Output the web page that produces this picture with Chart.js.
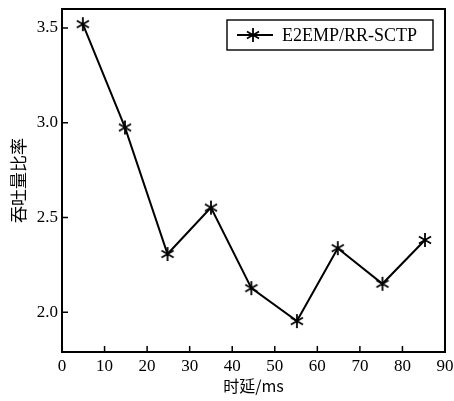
<!DOCTYPE html>
<html>
<head>
<meta charset="utf-8">
<script src="https://cdn.jsdelivr.net/npm/chart.js@4/dist/chart.umd.min.js"></script>
<style>
  html, body { margin: 0; padding: 0; background: #fff; }
  #wrap { width: 454px; height: 401px; }
</style>
</head>
<body>
<div id="wrap"><canvas id="chart"></canvas></div>
<script>
// data
var delays = [4.9, 14.8, 24.8, 35, 44.5, 55.2, 64.8, 75.3, 85.3];
var ratios = [3.52, 2.975, 2.307, 2.552, 2.127, 1.953, 2.338, 2.15, 2.381];
var seriesName = "E2EMP/RR-SCTP";
var xTitle = "时延/ms";
var yTitle = "吞吐量比率";

var serif = "'Liberation Serif', 'Times New Roman', serif";
var cjk = "'Noto Sans CJK SC', sans-serif";

// six-armed asterisk marker
function asterisk(r) {
    var c = document.createElement("canvas");
    c.width = c.height = r * 2 + 2;
    var g = c.getContext("2d");
    g.strokeStyle = "#000";
    g.lineWidth = 1.8;
    g.translate(r + 1, r + 1);
    g.beginPath();
    for (var i = 0; i < 3; i++) {
        var a = Math.PI / 2 + i * Math.PI / 3;
        g.moveTo(Math.cos(a) * r, Math.sin(a) * r);
        g.lineTo(-Math.cos(a) * r, -Math.sin(a) * r);
    }
    g.stroke();
    return c;
}
var marker = asterisk(7);

// no extra room for edge labels, the plot box is fixed
function noEdgePad(s) {
    s.paddingTop = 0;
    s.paddingBottom = 0;
    s.paddingLeft = 0;
    s.paddingRight = 0;
}

// frame, inward ticks and boxed legend
var framePlugin = {
    id: "frame",
    afterDraw: function (chart) {
        var ctx = chart.ctx, a = chart.chartArea;
        var xs = chart.scales.x, ys = chart.scales.y;
        ctx.save();
        ctx.strokeStyle = "#000";
        ctx.lineWidth = 2;
        ctx.strokeRect(a.left, a.top, a.right - a.left, a.bottom - a.top);
        ctx.lineWidth = 1.5;
        ctx.beginPath();
        xs.ticks.forEach(function (t) {
            var px = xs.getPixelForValue(t.value);
            ctx.moveTo(px, a.bottom);
            ctx.lineTo(px, a.bottom - 6);
        });
        ys.ticks.forEach(function (t) {
            var py = ys.getPixelForValue(t.value);
            ctx.moveTo(a.left, py);
            ctx.lineTo(a.left + 6, py);
        });
        ctx.stroke();

        // legend
        var bx = 227, by = 20, bw = 206, bh = 30;
        ctx.lineWidth = 1.4;
        ctx.strokeRect(bx, by, bw, bh);
        var ly = by + bh / 2;
        ctx.lineWidth = 1.8;
        ctx.beginPath();
        ctx.moveTo(bx + 10, ly);
        ctx.lineTo(bx + 46, ly);
        ctx.stroke();
        ctx.drawImage(marker, bx + 26 - marker.width / 2, ly - marker.height / 2);
        ctx.fillStyle = "#000";
        ctx.font = "18px " + serif;
        ctx.textBaseline = "middle";
        ctx.fillText(seriesName, bx + 55, ly + 1);
        ctx.restore();
    }
};

var ctx = document.getElementById("chart").getContext("2d");
var myChart = new Chart(ctx, {
    type: "line",
    data: {
        labels: delays,
        datasets: [{
            label: seriesName,
            data: delays.map(function (d, i) { return { x: d, y: ratios[i] }; }),
            borderColor: "#000",
            borderWidth: 2,
            pointStyle: marker,
            pointRadius: 7,
            tension: 0,
            fill: false
        }]
    },
    options: {
        responsive: true,
        maintainAspectRatio: false,
        animation: false,
        layout: { padding: { top: 6, right: 8, left: 0, bottom: 0 } },
        plugins: {
            legend: { display: false },
            tooltip: { enabled: false }
        },
        scales: {
            x: {
                type: "linear",
                min: 0,
                max: 90,
                ticks: {
                    stepSize: 10,
                    color: "#000",
                    padding: 4,
                    maxRotation: 0,
                    font: { family: serif, size: 17 }
                },
                grid: { display: false, drawTicks: false },
                border: { display: false },
                title: {
                    display: true,
                    text: xTitle,
                    color: "#000",
                    padding: { top: 0, bottom: 5 },
                    font: { family: cjk, size: 16 }
                },
                afterFit: function (s) { s.height = 49; noEdgePad(s); }
            },
            y: {
                min: 1.79,
                max: 3.6,
                afterBuildTicks: function (s) {
                    s.ticks = [2.0, 2.5, 3.0, 3.5].map(function (v) { return { value: v }; });
                },
                ticks: {
                    color: "#000",
                    padding: 4,
                    font: { family: serif, size: 17 },
                    callback: function (v) { return Number(v).toFixed(1); }
                },
                grid: { display: false, drawTicks: false },
                border: { display: false },
                title: {
                    display: true,
                    text: yTitle,
                    color: "#000",
                    padding: { top: 8, bottom: 0 },
                    font: { family: cjk, size: 17 }
                },
                afterFit: function (s) { s.width = 62; noEdgePad(s); }
            }
        }
    },
    plugins: [framePlugin]
});
</script>
</body>
</html>
